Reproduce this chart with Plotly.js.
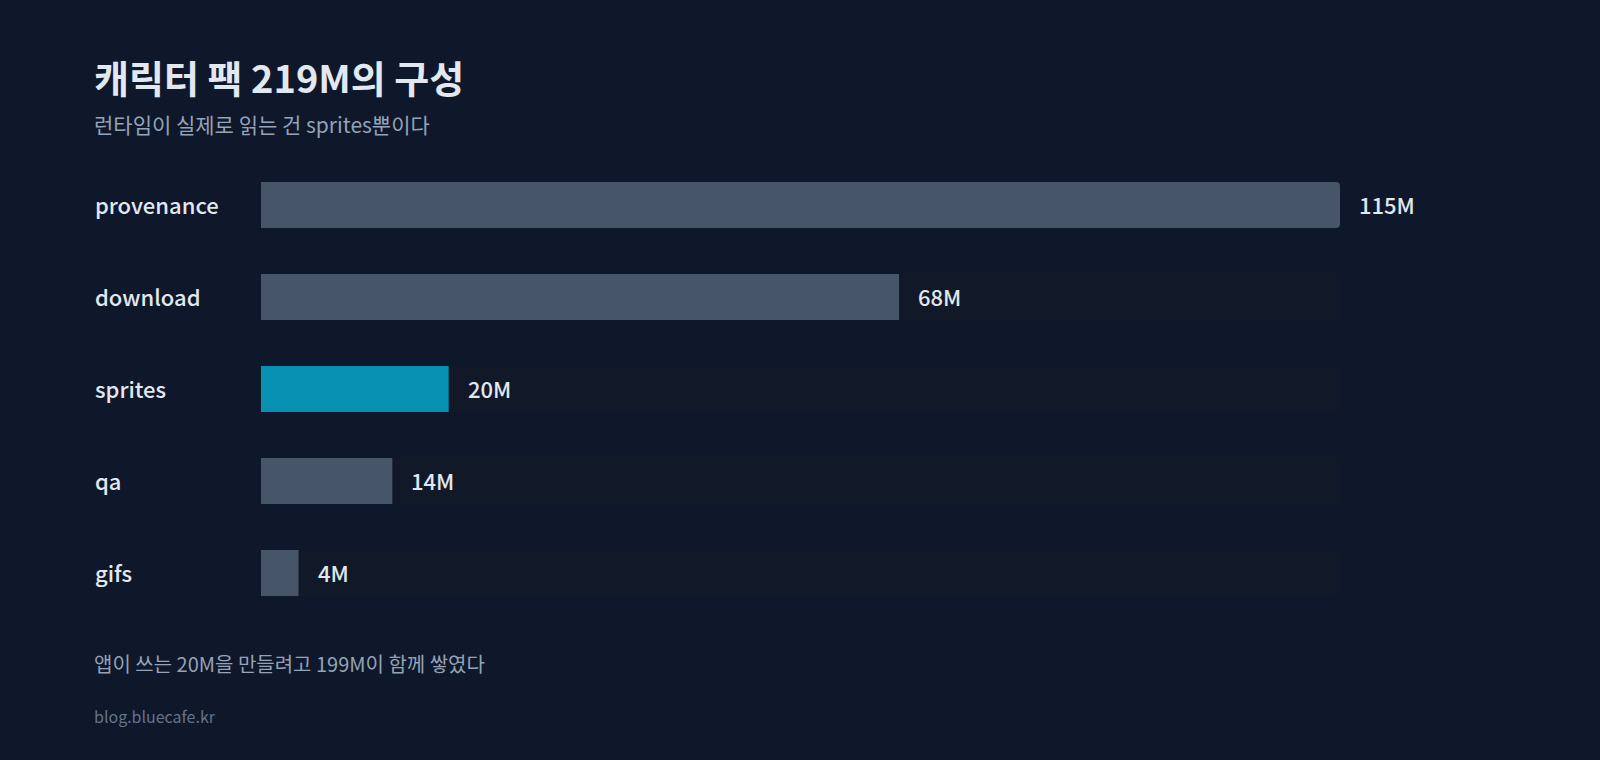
<!DOCTYPE html>
<html>
<head>
<meta charset="utf-8">
<script src="https://cdn.plot.ly/plotly-3.0.1.min.js"></script>
<style>
  html, body { margin: 0; padding: 0; background: #0f172a; }
  #chart { width: 1600px; height: 760px; }
</style>
</head>
<body>
<div id="chart"></div>
<script>
// ---- data ----
const categories = ["provenance", "download", "sprites", "qa", "gifs"];
const sizesM = [115, 68, 20, 14, 4];
const valueLabels = ["115M", "68M", "20M", "14M", "4M"];
const highlightCategory = "sprites";

const titleText = "캐릭터 팩 219M의 구성";
const subtitleText = "런타임이 실제로 읽는 건 sprites뿐이다";
const noteText = "앱이 쓰는 20M을 만들려고 199M이 함께 쌓였다";
const sourceText = "blog.bluecafe.kr";

// ---- styling ----
const FONT = "'Noto Sans CJK KR', 'Noto Sans', sans-serif";
const BG = "#0f172a";
const TRACK = "#111827";
const BAR = "#475569";
const HILITE = "#0891b2";
const TEXT = "#e2e8f0";
const MUTED = "#94a3b8";
const FAINT = "#64748b";

const maxVal = Math.max(...sizesM);
const trackVals = categories.map(() => maxVal);

const trackTrace = {
  type: "bar", orientation: "h",
  y: categories, x: trackVals,
  width: 0.5,
  marker: { color: TRACK, cornerradius: 4 },
  hoverinfo: "skip", showlegend: false
};
const barTrace = {
  type: "bar", orientation: "h",
  y: categories, x: sizesM,
  width: 0.5,
  marker: { color: categories.map(c => c === highlightCategory ? HILITE : BAR), cornerradius: 4 },
  hoverinfo: "skip", showlegend: false
};

const annotations = [];
categories.forEach((c, i) => {
  annotations.push({
    xref: "x", yref: "y", x: 0, y: c, xanchor: "left", yanchor: "middle",
    xshift: -168, yshift: 1, showarrow: false, text: c,
    font: { family: FONT, size: 22, color: TEXT, weight: 500 }
  });
  annotations.push({
    xref: "x", yref: "y", x: sizesM[i], y: c, xanchor: "left", yanchor: "middle",
    xshift: 17, yshift: 1, showarrow: false, text: valueLabels[i],
    font: { family: FONT, size: 22, color: TEXT, weight: 500 }
  });
});
annotations.push({
  xref: "paper", yref: "paper", x: 0, y: 1, xanchor: "left", yanchor: "middle",
  xshift: -169, yshift: 83, showarrow: false, text: titleText,
  font: { family: FONT, size: 38, color: TEXT, weight: 700 }
});
annotations.push({
  xref: "paper", yref: "paper", x: 0, y: 1, xanchor: "left", yanchor: "middle",
  xshift: -169, yshift: 35, showarrow: false, text: subtitleText,
  font: { family: FONT, size: 21, color: MUTED }
});
annotations.push({
  xref: "paper", yref: "paper", x: 0, y: 0, xanchor: "left", yanchor: "middle",
  xshift: -169, yshift: -44, showarrow: false, text: noteText,
  font: { family: FONT, size: 20, color: MUTED }
});
annotations.push({
  xref: "paper", yref: "paper", x: 0, y: 0, xanchor: "left", yanchor: "middle",
  xshift: -169, yshift: -97, showarrow: false, text: sourceText,
  font: { family: FONT, size: 16, color: FAINT }
});

const layout = {
  width: 1600, height: 760,
  paper_bgcolor: BG, plot_bgcolor: BG,
  margin: { l: 261, r: 260, t: 159, b: 141 },
  barmode: "overlay",
  showlegend: false,
  xaxis: { range: [0, maxVal], visible: false, fixedrange: true },
  yaxis: { categoryorder: "array", categoryarray: categories, autorange: "reversed",
           visible: false, fixedrange: true },
  annotations: annotations
};

Plotly.newPlot("chart", [trackTrace, barTrace], layout, { displayModeBar: false, staticPlot: true });
</script>
</body>
</html>
